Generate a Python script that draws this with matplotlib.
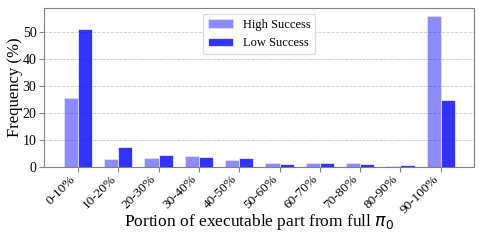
# plot.py
# Frequency histogram of the executable portion of pi_0
import matplotlib.pyplot as plt
import numpy as np

# data
categories = ['0-10%', '10-20%', '20-30%', '30-40%', '40-50%',
              '50-60%', '60-70%', '70-80%', '80-90%', '90-100%']
high_success = [25.3, 3.1, 3.2, 4.1, 2.5, 1.4, 1.4, 1.3, 0.5, 55.7]
low_success = [51.0, 7.4, 4.3, 3.7, 3.2, 1.0, 1.5, 1.1, 0.7, 24.7]

plt.rcParams['font.family'] = ['Liberation Serif', 'DejaVu Serif']
plt.rcParams['mathtext.fontset'] = 'dejavusans'

fig, ax = plt.subplots(figsize=(4.84, 2.42), dpi=100)
x = np.arange(len(categories))
w = 0.35

ax.bar(x - w / 2, high_success, w, color='blue', alpha=0.45, edgecolor='white',
       linewidth=0.6, label='High Success', zorder=3)
ax.bar(x + w / 2, low_success, w, color='blue', alpha=0.8, edgecolor='white',
       linewidth=0.6, label='Low Success', zorder=3)

ax.set_xticks(x)
ax.set_xticklabels(categories, rotation=45, ha='right', fontsize=9.5)
ax.tick_params(axis='y', labelsize=10, pad=2)
ax.tick_params(axis='x', pad=1)
ax.set_xlim(-0.84, 9.82)
ax.set_ylim(0, 58.7)
ax.set_yticks([0, 10, 20, 30, 40, 50])
ax.set_ylabel('Frequency (%)', fontsize=12, labelpad=0)
ax.set_xlabel(r'Portion of executable part from full $\pi_0$', fontsize=12.5, labelpad=-3)
ax.grid(axis='y', linestyle='--', color='#cccccc', linewidth=0.6, zorder=0)
for s in ax.spines.values():
    s.set_color('#808080')
ax.tick_params(colors='#808080', labelcolor='black')

ax.legend(loc='upper center', fontsize=9, framealpha=1, edgecolor='#dddddd')

fig.subplots_adjust(left=0.091, right=0.979, top=0.967, bottom=0.31)
fig.savefig('out.png', dpi=100)
